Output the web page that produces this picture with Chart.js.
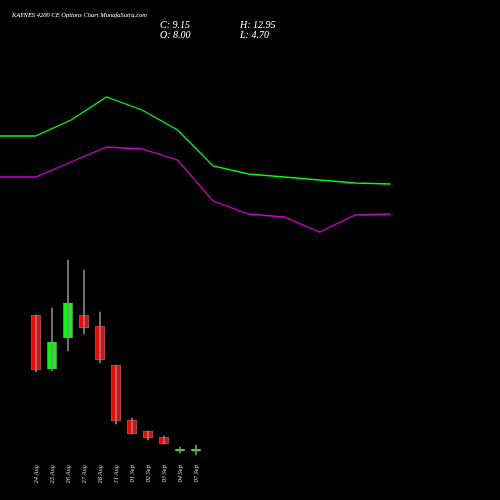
<!DOCTYPE html>
<html><head><meta charset="utf-8">
<script src="https://cdn.jsdelivr.net/npm/chart.js@4"></script>
<style>
html,body{margin:0;background:#000;width:500px;height:500px;overflow:hidden}
#wrap{position:absolute;left:0;top:0;width:500px;height:500px}
.t{position:absolute;color:#fff;font-family:"Liberation Serif",serif;font-style:italic;white-space:nowrap}
</style></head><body>
<div id="wrap"><canvas id="c" width="500" height="500"></canvas></div>
<div class="t" style="left:12px;top:11px;font-size:6.5px">KAYNES 4200  CE Options  Chart MunafaSutra.com</div>
<div class="t" style="left:160px;top:20px;font-size:10px;line-height:10px">C: 9.15<br>O: 8.00</div>
<div class="t" style="left:240px;top:20px;font-size:10px;line-height:10px">H: 12.95<br>L: 4.70</div>
<script>
const dates=["24 Aug","25 Aug","26 Aug","27 Aug","28 Aug","31 Aug","01 Sep","02 Sep","03 Sep","04 Sep","07 Sep"];
const opens=[33,22.2,28.4,33,30.8,23,12,9.8,8.6,5.8,5.8];
const closes=[22,27.6,35.4,30.4,24,11.8,9.2,8.4,7.2,6.2,6.2];
const highs=[33,34.4,44,42,33.6,23,12.4,9.8,8.8,6.6,7];
const lows=[21.6,21.8,25.8,29.2,23.4,11.2,9.2,8,7.2,5.4,5];
const upperLine=[68.8,68.8,72,76.6,74,70,62.8,61.2,60.6,60,59.4,59.2];
const lowerLine=[60.6,60.6,63.6,66.6,66.2,64,55.8,53.2,52.6,49.6,53,53.2];

const bodies=dates.map((d,i)=>({x:i,y:[opens[i],closes[i]]}));
const wicks=dates.map((d,i)=>({x:i,y:[lows[i],highs[i]]}));
const cols=dates.map((d,i)=>closes[i]>=opens[i]?'#00ff00':'#ff0000');
const dateLabels={id:'dl',afterDraw(ch){const c=ch.ctx,s=ch.scales.x;c.save();c.fillStyle='#ddd';c.font='italic 6.5px "Liberation Serif"';c.textAlign='right';c.textBaseline='middle';
dates.forEach((d,i)=>{c.save();c.translate(s.getPixelForValue(i),465);c.rotate(-Math.PI/2);c.fillText(d,0,0);c.restore();});c.restore();}};
new Chart(document.getElementById('c'),{
data:{datasets:[
{type:'line',data:upperLine.map((v,i)=>({x:i,y:v})),xAxisID:'x2',borderColor:'#00ff00',borderWidth:1.3,pointRadius:0,tension:0},
{type:'line',data:lowerLine.map((v,i)=>({x:i,y:v})),xAxisID:'x2',borderColor:'#cc00cc',borderWidth:1.3,pointRadius:0,tension:0},
{type:'bar',data:wicks,backgroundColor:'#888',barThickness:1,grouped:false},
{type:'bar',data:bodies,backgroundColor:cols,borderColor:'#999',borderWidth:0.6,borderSkipped:false,barThickness:9,grouped:false}
]},
options:{animation:false,responsive:false,layout:{padding:0},
plugins:{legend:{display:false},tooltip:{enabled:false}},
scales:{x:{type:'linear',display:false,offset:false,min:-2.25,max:29},
x2:{type:'linear',display:false,offset:false,min:0,max:14.08},
y:{display:false,min:-4,max:96}}},
plugins:[dateLabels]});
</script></body></html>
